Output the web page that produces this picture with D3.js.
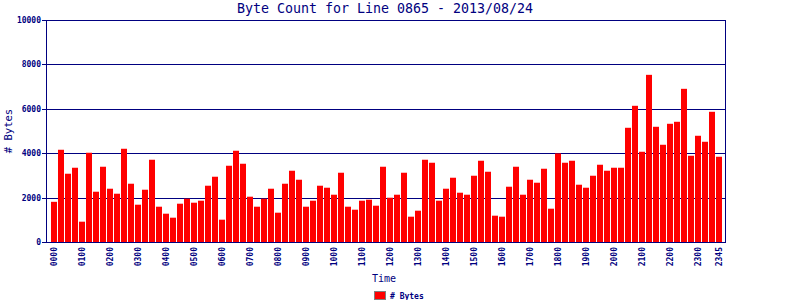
<!DOCTYPE html>
<html lang="en">
<head>
  <meta charset="UTF-8">
  <title>Byte Count for Line 0865</title>
  <script src="https://d3js.org/d3.v7.min.js"></script>
  <style>
    body { margin: 0; background: #fff; }
    svg { display: block; }
    text { fill: #000080; }
  </style>
</head>
<body>
  <svg id="chart" width="800" height="300"></svg>
  <script>
    // one bar every 15 minutes, 0000 .. 2345
    const times = [];
    for (let h = 0; h < 24; h++) {
      for (const m of ['00', '15', '30', '45']) times.push(String(h).padStart(2, '0') + m);
    }

    const bytes = [
      1810, 4155, 3075, 3345, 915, 4020, 2265, 3390, 2400, 2175, 4200, 2625,
      1680, 2355, 3705, 1590, 1275, 1095, 1725, 1950, 1770, 1860, 2535, 2940,
      1005, 3435, 4110, 3525, 2040, 1590, 1950, 2400, 1320, 2625, 3210, 2805,
      1590, 1860, 2535, 2445, 2130, 3120, 1590, 1455, 1860, 1905, 1635, 3390,
      1995, 2130, 3120, 1140, 1410, 3705, 3570, 1860, 2400, 2895, 2220, 2130,
      2985, 3660, 3165, 1185, 1140, 2490, 3390, 2130, 2805, 2670, 3300, 1500,
      3990, 3570, 3660, 2580, 2445, 2985, 3480, 3210, 3345, 3345, 5145, 6135,
      4065, 7530, 5190, 4380, 5325, 5415, 6900, 3885, 4785, 4515, 5865, 3840
    ];

    const yTicks = [0, 2000, 4000, 6000, 8000, 10000];
    const xTickLabels = ['0000', '0100', '0200', '0300', '0400', '0500', '0600', '0700',
      '0800', '0900', '1000', '1100', '1200', '1300', '1400', '1500', '1600', '1700',
      '1800', '1900', '2000', '2100', '2200', '2300', '2345'];

    const navy = '#000080';
    const mono = '"DejaVu Sans Mono", "Liberation Mono", monospace';

    const svg = d3.select('#chart');
    const plotLeft = 46, plotRight = 725, plotTop = 20, plotBottom = 242;

    const x = d3.scaleBand().domain(times).range([50, 722]).padding(0);
    const y = d3.scaleLinear().domain([0, 10000]).range([plotBottom, plotTop]);

    // grid lines + y ticks
    svg.append('g')
      .selectAll('line')
      .data(yTicks)
      .enter()
      .append('line')
      .attr('x1', plotLeft - 4)
      .attr('x2', plotRight)
      .attr('y1', d => Math.round(y(d)) + 0.5)
      .attr('y2', d => Math.round(y(d)) + 0.5)
      .attr('stroke', navy)
      .attr('stroke-width', 1);

    svg.append('g')
      .selectAll('text')
      .data(yTicks)
      .enter()
      .append('text')
      .attr('x', 41)
      .attr('y', d => y(d) + 3)
      .attr('text-anchor', 'end')
      .style('font', `bold 8px ${mono}`)
      .text(d => d);

    // bars
    svg.append('g')
      .selectAll('rect')
      .data(bytes)
      .enter()
      .append('rect')
      .attr('x', (d, i) => x(times[i]) + 1)
      .attr('width', x.bandwidth() - 1)
      .attr('y', d => y(d))
      .attr('height', d => plotBottom - y(d))
      .attr('fill', '#ff0000');

    // frame
    svg.append('rect')
      .attr('x', plotLeft + 0.5)
      .attr('y', plotTop + 0.5)
      .attr('width', plotRight - plotLeft)
      .attr('height', plotBottom - plotTop)
      .attr('fill', 'none')
      .attr('stroke', navy)
      .attr('stroke-width', 1);

    // x tick labels (rotated)
    svg.append('g')
      .selectAll('text')
      .data(xTickLabels)
      .enter()
      .append('text')
      .attr('transform', d => `translate(${x(d) + x.bandwidth() / 2 + 3},247) rotate(-90)`)
      .attr('text-anchor', 'end')
      .style('font', `bold 8px ${mono}`)
      .text(d => d);

    // title
    svg.append('text')
      .attr('x', 385)
      .attr('y', 13)
      .attr('text-anchor', 'middle')
      .style('font', `13.3px ${mono}`)
      .text('Byte Count for Line 0865 - 2013/08/24');

    // axis titles
    svg.append('text')
      .attr('x', 384)
      .attr('y', 282)
      .attr('text-anchor', 'middle')
      .style('font', `10px ${mono}`)
      .text('Time');

    svg.append('text')
      .attr('transform', 'translate(12,131) rotate(-90)')
      .attr('text-anchor', 'middle')
      .style('font', `10.5px ${mono}`)
      .text('# Bytes');

    // legend
    svg.append('rect')
      .attr('x', 374.5)
      .attr('y', 291.5)
      .attr('width', 11)
      .attr('height', 8)
      .attr('fill', '#ff0000')
      .attr('stroke', '#808080');

    svg.append('text')
      .attr('x', 390)
      .attr('y', 299)
      .style('font', `bold 8px ${mono}`)
      .text('# Bytes');
  </script>
</body>
</html>
